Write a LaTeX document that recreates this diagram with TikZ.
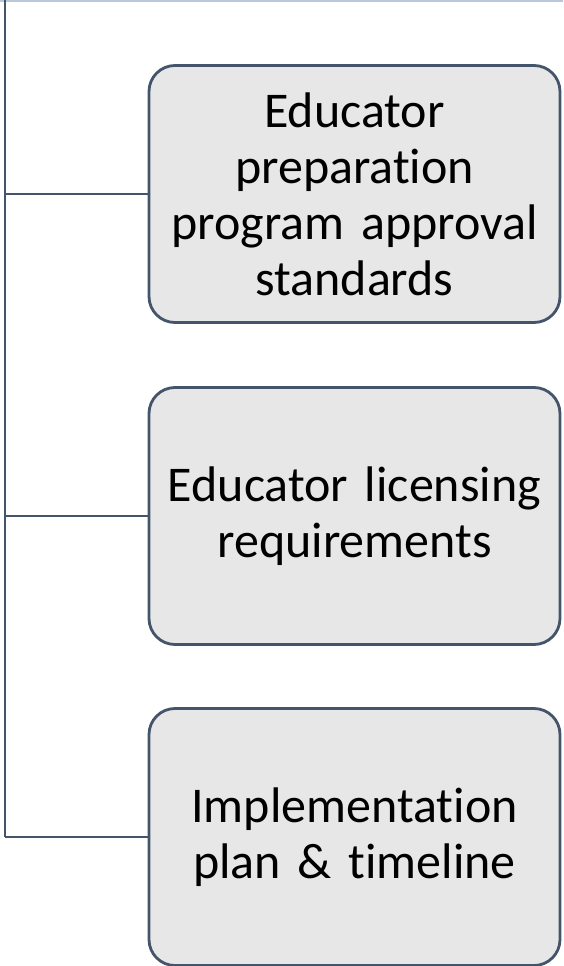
\documentclass[tikz,border=0pt]{standalone}
\usepackage{fontspec}
\setmainfont{Carlito}[Ligatures=NoCommon]
\definecolor{edge}{HTML}{44546A}
\definecolor{boxfill}{HTML}{E7E7E7}
\definecolor{topline}{HTML}{B8C7DA}
\tikzset{
  x=1pt, y=-1pt,
  item/.style={draw=edge, fill=boxfill, line width=2.8pt, rounded corners=26pt,
    minimum width=411pt, minimum height=257pt, align=center, text width=400pt,
    font=\fontsize{50}{56}\selectfont, inner sep=0pt},
  link/.style={draw=edge, line width=2.8pt}
}
\begin{document}
\begin{tikzpicture}
\useasboundingbox (0,0) rectangle (563,966);
\fill[topline] (0,0) rectangle (563,2.5);
\node[item] (b1) at (354.5,194) {Educator\\preparation\\program approval\\standards};
\node[item] (b2) at (354.5,516) {Educator licensing\\requirements};
\node[item] (b3) at (354.5,837) {Implementation\\plan \& timeline};
\coordinate (top) at (5,0);
\coordinate (c1) at (5,194);
\coordinate (c2) at (5,516);
\coordinate (c3) at (5,837);
\draw[link] (top) -- (c3);
\draw[link] (c1) -- (b1.west);
\draw[link] (c2) -- (b2.west);
\draw[link] (c3) -- (b3.west);
\end{tikzpicture}
\end{document}
